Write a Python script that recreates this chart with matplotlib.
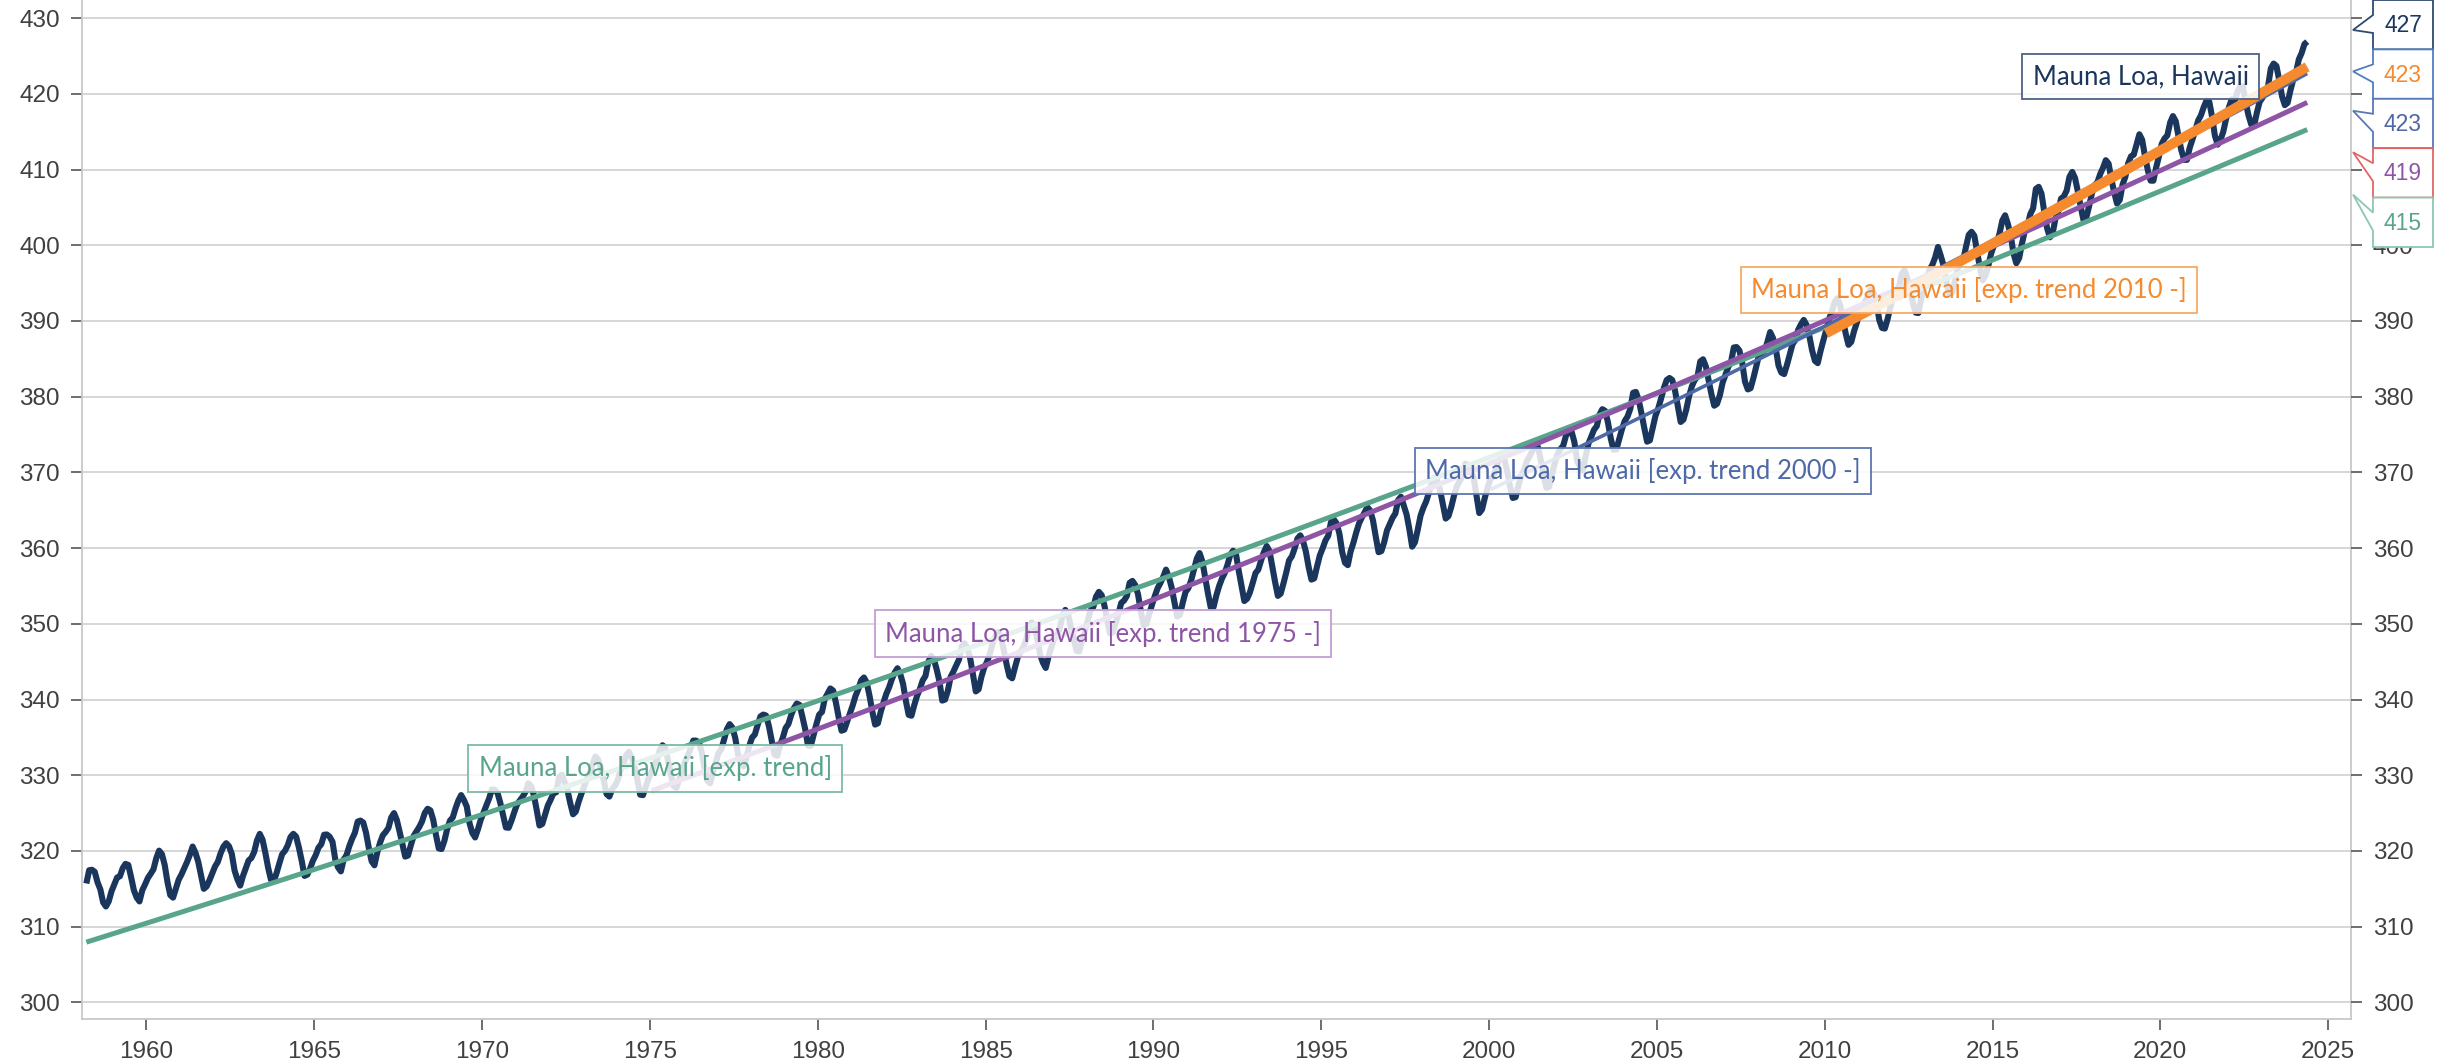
import numpy as np
import matplotlib
matplotlib.use("Agg")
import matplotlib.pyplot as plt
from matplotlib.patches import Polygon

# ---------------- data ----------------
start_year = 1958
start_month = 3  # first value is March 1958

co2_monthly = [
    315.70, 317.45, 317.51, 317.24, 315.86, 314.93, 313.20, 312.66, 313.33, 314.67,  # 1958
    315.58, 316.49, 316.65, 317.72, 318.29, 318.15, 316.54, 314.80, 313.84, 313.33, 314.81, 315.58,  # 1959
    316.43, 316.98, 317.58, 319.03, 320.04, 319.59, 318.18, 315.90, 314.17, 313.83, 315.00, 316.19,  # 1960
    316.89, 317.70, 318.54, 319.48, 320.58, 319.77, 318.57, 316.79, 314.99, 315.31, 316.10, 317.01,  # 1961
    317.94, 318.55, 319.68, 320.57, 321.02, 320.62, 319.61, 317.40, 316.25, 315.42, 316.69, 317.70,  # 1962
    318.74, 319.07, 319.86, 321.38, 322.25, 321.48, 319.74, 317.77, 316.21, 315.99, 317.07, 318.35,  # 1963
    319.57, 320.01, 320.74, 321.84, 322.26, 321.89, 320.44, 318.69, 316.70, 316.87, 317.68, 318.71,  # 1964
    319.44, 320.44, 320.89, 322.14, 322.17, 321.87, 321.21, 318.87, 317.81, 317.30, 318.87, 319.42,  # 1965
    320.62, 321.59, 322.39, 323.87, 324.01, 323.75, 322.39, 320.37, 318.64, 318.10, 319.79, 321.08,  # 1966
    322.07, 322.50, 323.04, 324.42, 325.00, 324.09, 322.54, 320.92, 319.25, 319.39, 320.73, 321.96,  # 1967
    322.57, 323.15, 323.89, 325.02, 325.57, 325.36, 324.14, 322.11, 320.33, 320.25, 321.32, 322.89,  # 1968
    324.00, 324.42, 325.63, 326.66, 327.38, 326.71, 325.88, 323.66, 322.38, 321.78, 322.85, 324.12,  # 1969
    325.06, 325.98, 326.93, 328.13, 328.08, 327.67, 326.34, 324.69, 323.10, 323.06, 324.01, 325.13,  # 1970
    326.17, 326.68, 327.17, 327.79, 328.93, 328.57, 327.36, 325.43, 323.36, 323.56, 324.80, 326.01,  # 1971
    326.77, 327.63, 327.75, 329.72, 330.07, 329.09, 328.04, 326.32, 324.84, 325.20, 326.50, 327.55,  # 1972
    328.55, 329.56, 330.30, 331.50, 332.48, 332.07, 330.87, 329.31, 327.51, 327.18, 328.16, 328.64,  # 1973
    329.35, 330.71, 331.48, 332.65, 333.09, 332.25, 331.18, 329.40, 327.43, 327.37, 328.46, 329.57,  # 1974
    330.40, 331.40, 332.04, 333.31, 333.96, 333.59, 331.91, 330.06, 328.56, 328.34, 329.49, 330.76,  # 1975
    331.75, 332.56, 333.50, 334.58, 334.57, 334.34, 333.05, 330.94, 329.30, 328.94, 330.31, 331.68,  # 1976
    332.93, 333.42, 334.70, 336.07, 336.75, 336.27, 334.92, 332.75, 331.59, 331.16, 332.40, 333.85,  # 1977
    334.97, 335.38, 336.64, 337.76, 338.01, 337.89, 336.54, 334.68, 332.76, 332.55, 333.92, 334.95,  # 1978
    336.23, 336.76, 337.96, 338.88, 339.47, 339.29, 337.73, 336.09, 333.92, 333.86, 335.29, 336.73,  # 1979
    338.01, 338.36, 340.08, 340.77, 341.46, 341.17, 339.56, 337.60, 335.88, 336.02, 337.10, 338.21,  # 1980
    339.24, 340.48, 341.38, 342.51, 342.91, 342.25, 340.49, 338.43, 336.69, 336.86, 338.36, 339.61,  # 1981
    340.75, 341.61, 342.70, 343.56, 344.13, 343.35, 342.06, 339.82, 337.97, 337.86, 339.26, 340.49,  # 1982
    341.38, 342.52, 343.10, 344.94, 345.75, 345.32, 343.99, 342.39, 339.86, 339.99, 341.16, 342.99,  # 1983
    343.70, 344.51, 345.28, 347.06, 347.43, 346.80, 345.39, 343.28, 341.07, 341.35, 342.98, 344.22,  # 1984
    344.97, 345.99, 347.42, 348.35, 348.93, 348.25, 346.56, 344.67, 343.09, 342.80, 344.24, 345.56,  # 1985
    346.30, 346.95, 347.85, 349.55, 350.21, 349.55, 347.94, 345.91, 344.86, 344.17, 345.66, 346.90,  # 1986
    348.02, 348.47, 349.42, 350.99, 351.84, 351.25, 349.52, 348.10, 346.44, 346.36, 347.81, 348.96,  # 1987
    350.43, 351.72, 352.22, 353.59, 354.22, 353.79, 352.39, 350.44, 348.72, 348.88, 350.07, 351.34,  # 1988
    352.76, 353.07, 353.68, 355.42, 355.67, 355.12, 353.90, 351.67, 349.80, 349.99, 351.30, 352.53,  # 1989
    353.66, 354.70, 355.39, 356.20, 357.16, 356.22, 354.82, 352.91, 350.96, 351.18, 352.83, 354.21,  # 1990
    354.72, 355.75, 357.16, 358.60, 359.34, 358.24, 356.17, 354.02, 352.15, 352.21, 353.75, 354.99,  # 1991
    355.98, 356.72, 357.81, 359.15, 359.66, 359.25, 357.02, 355.00, 353.01, 353.31, 354.16, 355.40,  # 1992
    356.70, 357.16, 358.38, 359.46, 360.28, 359.60, 357.57, 355.52, 353.69, 353.99, 355.34, 356.80,  # 1993
    358.37, 358.91, 359.97, 361.26, 361.69, 360.94, 359.55, 357.49, 355.84, 356.00, 357.58, 359.04,  # 1994
    359.97, 361.00, 361.64, 363.45, 363.79, 363.26, 361.90, 359.46, 358.06, 357.75, 359.56, 360.70,  # 1995
    362.05, 363.25, 364.03, 364.72, 365.41, 364.97, 363.65, 361.49, 359.46, 359.60, 360.76, 362.33,  # 1996
    363.18, 364.00, 364.57, 366.35, 366.79, 365.62, 364.47, 362.51, 360.19, 360.77, 362.43, 364.28,  # 1997
    365.32, 366.15, 367.31, 368.61, 369.30, 368.88, 367.64, 365.78, 363.90, 364.23, 365.46, 366.97,  # 1998
    368.15, 368.87, 369.59, 371.14, 371.00, 370.35, 369.27, 366.94, 364.63, 365.12, 366.67, 368.01,  # 1999
    369.14, 369.46, 370.52, 371.66, 371.82, 371.70, 370.12, 368.12, 366.62, 366.73, 368.29, 369.53,  # 2000
    370.28, 371.50, 372.12, 372.87, 374.02, 373.30, 371.62, 369.55, 367.96, 368.09, 369.68, 371.24,  # 2001
    372.44, 373.08, 373.52, 374.85, 375.55, 375.40, 374.02, 371.49, 370.71, 370.25, 372.08, 373.78,  # 2002
    374.68, 375.62, 376.11, 377.65, 378.35, 378.13, 376.62, 374.50, 372.99, 373.01, 374.35, 375.70,  # 2003
    376.79, 377.37, 378.41, 380.52, 380.63, 379.57, 377.79, 375.86, 374.06, 374.24, 375.86, 377.48,  # 2004
    378.47, 379.76, 381.14, 382.20, 382.47, 382.20, 380.78, 378.73, 376.66, 376.98, 378.29, 380.07,  # 2005
    381.36, 382.19, 382.65, 384.65, 384.94, 384.01, 382.15, 380.33, 378.81, 379.06, 380.17, 381.85,  # 2006
    382.89, 383.90, 384.58, 386.50, 386.56, 386.10, 384.50, 381.99, 380.96, 381.12, 382.45, 383.95,  # 2007
    385.52, 385.82, 386.03, 387.21, 388.54, 387.76, 386.36, 384.09, 383.18, 382.99, 384.19, 385.56,  # 2008
    386.94, 387.48, 388.82, 389.55, 390.14, 389.48, 388.03, 386.11, 384.74, 384.43, 386.02, 387.42,  # 2009
    388.71, 390.20, 391.17, 392.46, 393.00, 392.15, 390.20, 388.35, 386.85, 387.24, 388.67, 389.79,  # 2010
    391.33, 391.86, 392.60, 393.25, 394.19, 393.74, 392.51, 390.13, 389.08, 389.00, 390.28, 391.86,  # 2011
    393.12, 393.86, 394.40, 396.18, 396.74, 395.71, 394.36, 392.39, 391.11, 391.05, 392.98, 394.34,  # 2012
    395.55, 396.80, 397.43, 398.41, 399.78, 398.60, 397.32, 395.20, 393.45, 393.70, 395.16, 396.84,  # 2013
    397.85, 398.01, 399.77, 401.38, 401.78, 401.25, 399.10, 397.03, 395.38, 396.03, 397.28, 398.91,  # 2014
    399.98, 400.28, 401.54, 403.28, 403.96, 402.80, 401.31, 398.93, 397.63, 398.29, 400.16, 401.85,  # 2015
    402.56, 404.12, 404.87, 407.45, 407.72, 406.83, 404.41, 402.27, 401.05, 401.59, 403.55, 404.45,  # 2016
    406.17, 406.46, 407.22, 409.04, 409.69, 408.88, 407.12, 405.13, 403.37, 403.63, 405.12, 406.81,  # 2017
    407.96, 408.32, 409.41, 410.24, 411.24, 410.79, 408.71, 406.99, 405.51, 406.00, 408.02, 409.07,  # 2018
    410.83, 411.75, 411.97, 413.32, 414.66, 413.92, 411.77, 409.95, 408.54, 408.53, 410.27, 411.76,  # 2019
    413.40, 414.11, 414.51, 416.21, 417.07, 416.39, 414.38, 412.55, 411.29, 411.28, 412.89, 414.02,  # 2020
    415.15, 416.47, 417.16, 418.24, 419.13, 418.94, 416.96, 414.47, 413.30, 413.93, 415.01, 416.71,  # 2021
    418.19, 419.28, 418.81, 420.23, 420.99, 420.99, 418.90, 417.19, 415.95, 415.78, 417.51, 418.95,  # 2022
    419.47, 420.31, 420.99, 423.36, 424.00, 423.68, 421.83, 419.68, 418.51, 418.82, 420.46, 421.86,  # 2023
    422.80, 424.55, 425.38, 426.57, 426.90,  # 2024
]

series_name = "Mauna Loa, Hawaii"
trend_starts = [1958, 1975, 2000, 2010]
trend_labels = ["Mauna Loa, Hawaii [exp. trend]",
                "Mauna Loa, Hawaii [exp. trend 1975 -]",
                "Mauna Loa, Hawaii [exp. trend 2000 -]",
                "Mauna Loa, Hawaii [exp. trend 2010 -]"]
# end-value flags at the right edge, top to bottom (series, 2010-, 2000-, 1975-, full trend)
flag_labels = ["427", "423", "423", "419", "415"]
y_ticks = list(range(300, 431, 10))
x_ticks = list(range(1960, 2026, 5))

# ---------------- style ----------------
W, H = 2446, 1064
NAVY = "#1b365d"
GREEN = "#58a58b"
PURPLE = "#8e55a6"
BLUE = "#4e69a8"
ORANGE = "#f58a2e"
TICKC = "#404040"
TICKFONT = ["Liberation Sans", "DejaVu Sans"]
LABFONT = ["Lato", "DejaVu Sans"]

co2 = np.array(co2_monthly)
idx = np.arange(len(co2)) + (start_month - 1)
t = start_year + (idx + 0.5) / 12.0


def exp_trend(t0):
    m = t >= t0
    b, a = np.polyfit(t[m], np.log(co2[m]), 1)
    tt = t[m]
    return tt, np.exp(a + b * tt)


fig = plt.figure(figsize=(W / 100, H / 100), dpi=100)
ax_l, ax_r, ax_b, ax_t = 81.7, 2351, 1019, 0
ax = fig.add_axes([ax_l / W, (H - ax_b) / H, (ax_r - ax_l) / W, (ax_b - ax_t) / H])
ax.set_xlim(1958.07, 2025.68)
ax.set_ylim(297.8, 432.4)

for s in ["left", "bottom", "right"]:
    ax.spines[s].set_color("#c8c8c8")
    ax.spines[s].set_linewidth(1.3)
ax.spines["top"].set_visible(False)
ax.set_yticks(y_ticks)
ax.set_xticks(x_ticks)
ax.yaxis.grid(True, color="#d0d0d0", lw=1.2, zorder=0)
ax.set_axisbelow(True)
ax.tick_params(axis="both", colors="#555555", labelcolor=TICKC, length=7.7, width=1.2,
               labelsize=17.5, pad=8)
for lab in ax.get_xticklabels() + ax.get_yticklabels():
    lab.set_family(TICKFONT)

ax2 = ax.twinx()
ax2.set_ylim(ax.get_ylim())
ax2.set_yticks(y_ticks)
# the top three right-hand labels sit under the value flags
ax2.set_yticklabels([str(v) if v <= 400 else "" for v in y_ticks])
for s in ax2.spines.values():
    s.set_visible(False)
ax2.tick_params(axis="y", colors="#555555", labelcolor=TICKC, length=7.7, width=1.2,
                labelsize=17.5, pad=8)
for lab in ax2.get_yticklabels():
    lab.set_family(TICKFONT)

# data series
ax.plot(t, co2, color=NAVY, lw=4.4, solid_joinstyle="round", solid_capstyle="butt", zorder=3)

# trends
trend_colors = [GREEN, PURPLE, BLUE, ORANGE]
trend_widths = [3.6, 3.6, 2.6, 7.2]
for k, (t0, c, lw) in enumerate(zip(trend_starts, trend_colors, trend_widths)):
    tt, yy = exp_trend(t0)
    ax.plot(tt, yy, color=c, lw=lw, solid_capstyle="butt", zorder=4 + k)

# in-plot labels (left edge x in years, vertical centre in ppm)
lab_pos = [(1969.6, 330.9), (1981.7, 348.7), (1997.8, 370.2), (2007.5, 394.1), (2015.9, 422.3)]
lab_text = trend_labels + [series_name]
lab_col = [GREEN, PURPLE, BLUE, ORANGE, NAVY]
lab_edge = ["#7dbba5", "#c49dd4", "#5d76b2", "#f7aa66", "#4d6286"]
fs_lab = 18.5
pad_px = 10
for (x0, y0), txt, c, ec in zip(lab_pos, lab_text, lab_col, lab_edge):
    ax.annotate(txt, xy=(x0, y0), xycoords="data", xytext=(pad_px, 0), textcoords="offset pixels",
                ha="left", va="center", fontsize=fs_lab, color=c, family=LABFONT, zorder=20,
                bbox=dict(boxstyle="square,pad=0.4", fc=(1, 1, 1, 0.85), ec=ec, lw=1.3))

# right-hand value flags
flag_text_col = [NAVY, ORANGE, BLUE, PURPLE, GREEN]
flag_edge = ["#2e4a72", "#4f7fc0", "#5a78b6", "#e06666", "#8cc7b2"]
tip_off = [30, 22, 12, 4, -3]
box_h = 49.4
bx0, bx1, tipx = 2373, 2433, 2353
for i, (v, tc, ec, to) in enumerate(zip(flag_labels, flag_text_col, flag_edge, tip_off)):
    top = i * box_h
    bot = top + box_h
    b1, b2 = top + 15, top + 33
    pts_px = [(bx0, top), (bx1, top), (bx1, bot), (bx0, bot), (bx0, b2), (tipx, top + to), (bx0, b1)]
    pts = [(x / W, 1 - y / H) for x, y in pts_px]
    fig.patches.append(Polygon(pts, closed=True, fc="white", ec=ec, lw=1.3,
                               transform=fig.transFigure, zorder=30))
    fig.text((bx0 + bx1) / 2 / W, 1 - (top + box_h / 2 + 1) / H, v, ha="center", va="center",
             fontsize=16.5, color=tc, family=TICKFONT, zorder=31)

fig.savefig("out.png", dpi=100, facecolor="white")
